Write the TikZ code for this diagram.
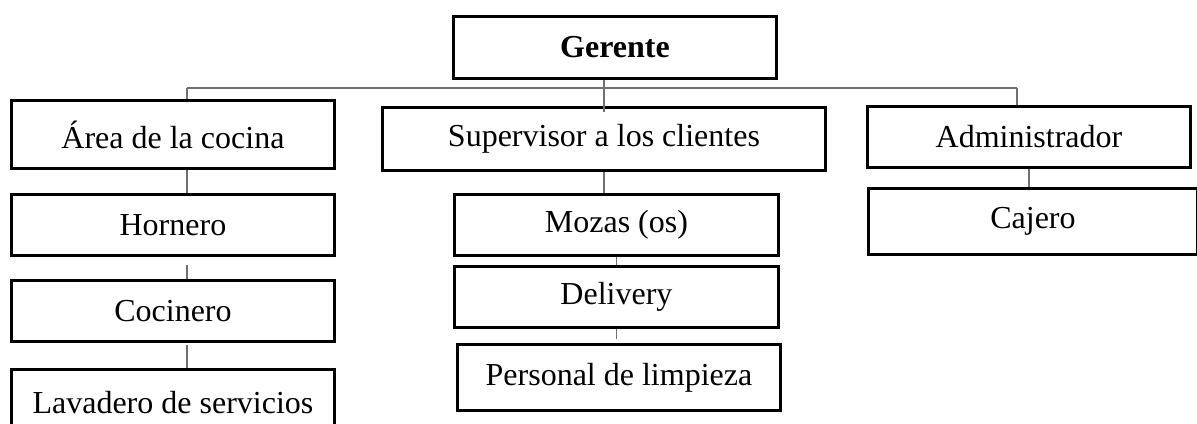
\documentclass[tikz,border=0pt]{standalone}
\usepackage{fontspec}
\setmainfont{Liberation Serif}
\usetikzlibrary{positioning,calc}
\definecolor{gristrazo}{RGB}{112,112,112}
\tikzset{
	cargo/.style={draw=black, line width=1.45pt, inner sep=0pt, anchor=north west,
		font=\fontsize{16}{19}\selectfont, align=center},
	conector/.style={draw=gristrazo, line width=0.65pt}
}

\begin{document}
\begin{tikzpicture}[x=0.5pt, y=-0.5pt]
	\useasboundingbox (0,0) rectangle (1197,423);
	\clip (0,0) rectangle (1197,423);
	
	\node[cargo, minimum width=161.5pt, minimum height=31pt] (ger) at (452,15) {\textbf{Gerente}};
	\node[cargo, minimum width=161.5pt, minimum height=34pt] (area) at (10,99) {Área de la cocina};
	\node[cargo, minimum width=221.5pt, minimum height=31.5pt] (sup) at (381,106) {Supervisor a los clientes};
	\node[cargo, minimum width=161.5pt, minimum height=30.5pt] (adm) at (866,105) {Administrador};
	\node[cargo, minimum width=164.5pt, minimum height=33pt] (caj) at (867,187) {Cajero};
	
	\node[cargo, minimum width=161.5pt, minimum height=30.5pt] (horn) at (10,193) {Hornero};
	\node[cargo, minimum width=161.5pt, minimum height=30.5pt] (coc) at (10,279) {Cocinero};
	\node[cargo, minimum width=161.5pt, minimum height=33pt] (lav) at (10,368) {Lavadero de servicios};
	
	\node[cargo, minimum width=162pt, minimum height=30.5pt] (moz) at (453,193) {Mozas (os)};
	\node[cargo, minimum width=162pt, minimum height=30.5pt] (del) at (453,265) {Delivery};
	\node[cargo, minimum width=161.5pt, minimum height=33pt] (pers) at (456,343) {Personal de limpieza};
	
	% barra de la que cuelgan las areas
	\coordinate (barra-i) at (187,88);
	\coordinate (barra-d) at (1017,88);
	\draw[conector] (barra-i) -- (barra-d);
	\draw[conector] (barra-i) -- (area.north -| barra-i);
	\draw[conector] (barra-d) -- (adm.north -| barra-d);
	\draw[conector] (ger.south -| sup.north) -- ([yshift=-3pt]sup.north);
	
	\draw[conector] (area.south -| barra-i) -- (horn.north -| barra-i);
	\draw[conector] ([yshift=-4pt]horn.south -| barra-i) -- (coc.north -| barra-i);
	\draw[conector] ([yshift=-1pt]coc.south -| barra-i) -- (lav.north -| barra-i);
	
	\draw[conector] (sup.south) -- (sup.south |- moz.north);
	\draw[conector] (moz.south) -- (del.north);
	\draw[conector] (del.south) -- ([yshift=2pt]del.south |- pers.north);
	
	\draw[conector] (adm.south) -- (adm.south |- caj.north);
\end{tikzpicture}
\end{document}
